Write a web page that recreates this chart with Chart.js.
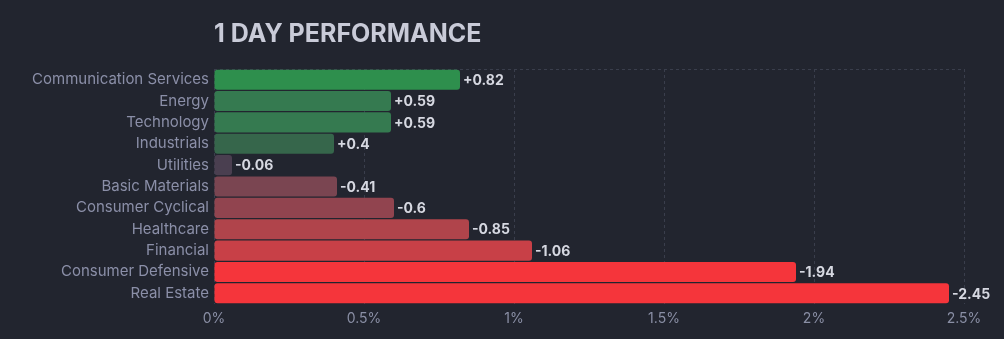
<!DOCTYPE html>
<html>
<head>
<meta charset="utf-8">
<script src="https://cdn.jsdelivr.net/npm/chart.js@4/dist/chart.umd.min.js"></script>
<style>
  body { margin: 0; background: #22252f; }
  canvas { display: block; }
</style>
</head>
<body>
<canvas id="perf" width="1004" height="339"></canvas>
<script>
// sectors, top to bottom
const sectors = ['Communication Services', 'Energy', 'Technology', 'Industrials', 'Utilities',
  'Basic Materials', 'Consumer Cyclical', 'Healthcare', 'Financial', 'Consumer Defensive', 'Real Estate']
// 1 day change in %
const changes = [0.82, 0.59, 0.59, 0.4, -0.06, -0.41, -0.6, -0.85, -1.06, -1.94, -2.45]
const barColors = ['#2e8f4d', '#357a50', '#357a50', '#36664b', '#4a3f50',
  '#7a4551', '#91444f', '#b0444b', '#c84047', '#f5353b', '#f5353b']
const xTicks = [0, 0.5, 1, 1.5, 2, 2.5]

const gridColor = '#3a3e4c'

// value labels at the end of each bar + the title
const labelsPlugin = {
  id: 'valueLabels',
  afterDatasetsDraw(chart) {
    const ctx = chart.ctx
    const meta = chart.getDatasetMeta(0)
    ctx.save()
    ctx.font = 'bold 14px Inter'
    ctx.fillStyle = '#d6d8e1'
    ctx.textBaseline = 'middle'
    ctx.textAlign = 'left'
    meta.data.forEach((bar, i) => {
      const v = changes[i]
      const txt = (v > 0 ? '+' : '') + v
      ctx.fillText(txt, bar.x + 3, bar.y + 1)
    })
    ctx.font = 'bold 25px Inter'
    ctx.fillStyle = '#c9cbd8'
    ctx.textBaseline = 'alphabetic'
    ctx.fillText('1 DAY PERFORMANCE', chart.chartArea.left, 42)
    ctx.restore()
  }
}

new Chart(document.getElementById('perf'), {
  type: 'bar',
  data: {
    labels: sectors,
    datasets: [{
      data: changes.map(v => Math.abs(v)),
      backgroundColor: barColors,
      borderRadius: 3,
      borderSkipped: false,
      barPercentage: 0.94,
      categoryPercentage: 1
    }]
  },
  options: {
    indexAxis: 'y',
    responsive: false,
    animation: false,
    layout: { padding: { top: 69, right: 40, bottom: 0, left: 0 } },
    plugins: {
      legend: { display: false },
      tooltip: { enabled: false }
    },
    scales: {
      x: {
        min: 0,
        max: 2.5,
        afterBuildTicks: scale => { scale.ticks = xTicks.map(v => ({ value: v })) },
        afterFit: scale => { scale.height = 35 },
        ticks: {
          color: '#8a8fa5',
          font: { family: 'Inter', size: 14 },
          padding: 6,
          callback: v => v + '%'
        },
        grid: { color: gridColor, drawTicks: false },
        border: { display: false, dash: [3, 3] }
      },
      y: {
        afterFit: scale => { scale.width = 214 },
        ticks: {
          color: '#8b8fa8',
          font: { family: 'Inter', size: 15 },
          padding: 5
        },
        grid: {
          drawTicks: false,
          color: c => (c.index === 0 || c.index === sectors.length) ? gridColor : 'transparent'
        },
        border: { display: false, dash: [3, 3] }
      }
    }
  },
  plugins: [labelsPlugin]
})
</script>
</body>
</html>
